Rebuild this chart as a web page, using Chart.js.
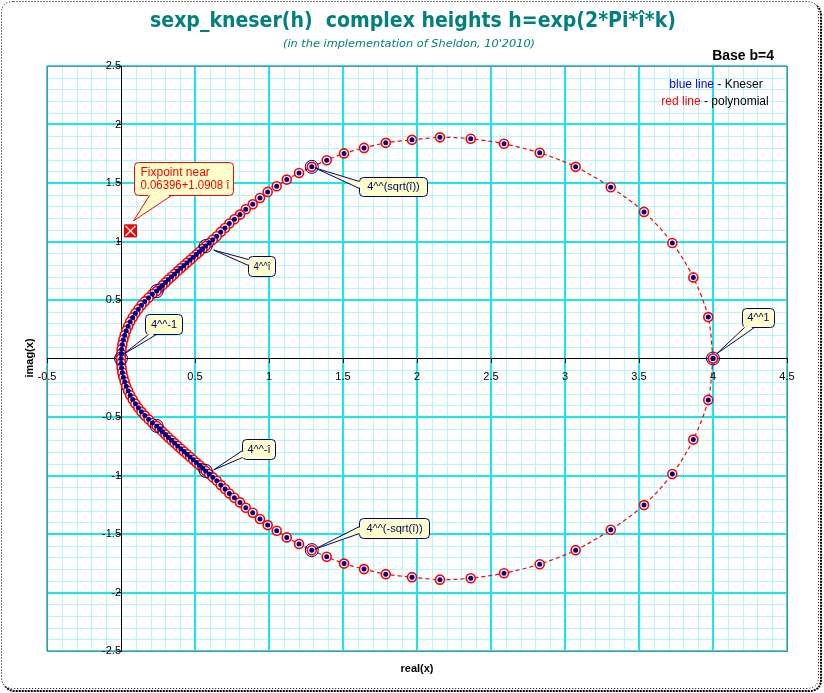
<!DOCTYPE html>
<html>
<head>
<meta charset="utf-8">
<title>sexp_kneser(h) complex heights</title>
<script src="https://cdn.jsdelivr.net/npm/chart.js"></script>
<style>
  html, body { margin: 0; padding: 0; background: #fff; }
  canvas { display: block; }
</style>
</head>
<body>
<canvas id="myChart" width="824" height="693"></canvas>
<script>
// values: h = exp(2*Pi*i*k), k = 0, 1/128, ... 1
// upper half (k = 0 .. 1/2) then lower half (k = 1/2 .. 1)
var kneserRe = [
  4.000, 3.968, 3.867, 3.725, 3.534, 3.309, 3.072, 2.829, 2.588, 2.363,
  2.155, 1.966, 1.789, 1.642, 1.507, 1.390, 1.289, 1.203, 1.120, 1.052,
  0.991, 0.939, 0.890, 0.843, 0.804, 0.766, 0.732, 0.703, 0.674, 0.647,
  0.620, 0.595, 0.572, 0.551, 0.530, 0.509, 0.488, 0.467, 0.446, 0.425,
  0.404, 0.383, 0.362, 0.341, 0.320, 0.300, 0.280, 0.260, 0.241, 0.212,
  0.186, 0.161, 0.138, 0.117, 0.097, 0.079, 0.062, 0.048, 0.035, 0.025,
  0.016, 0.009, 0.004, 0.001, 0.000,
  0.001, 0.004, 0.009, 0.016, 0.025, 0.035, 0.048, 0.062, 0.079, 0.097,
  0.117, 0.138, 0.161, 0.186, 0.212, 0.241, 0.260, 0.280, 0.300, 0.320,
  0.341, 0.362, 0.383, 0.404, 0.425, 0.446, 0.467, 0.488, 0.509, 0.530,
  0.551, 0.572, 0.595, 0.620, 0.647, 0.674, 0.703, 0.732, 0.766, 0.804,
  0.843, 0.890, 0.939, 0.991, 1.052, 1.120, 1.203, 1.289, 1.390, 1.507,
  1.642, 1.789, 1.966, 2.155, 2.363, 2.588, 2.829, 3.072, 3.309, 3.534,
  3.725, 3.867, 3.968, 4.000
];
var kneserIm = [
  0.000, 0.354, 0.693, 0.987, 1.253, 1.464, 1.638, 1.758, 1.835, 1.878,
  1.890, 1.869, 1.843, 1.800, 1.753, 1.695, 1.638, 1.586, 1.529, 1.472,
  1.424, 1.372, 1.318, 1.276, 1.230, 1.190, 1.154, 1.116, 1.082, 1.045,
  1.016, 0.987, 0.961, 0.937, 0.913, 0.889, 0.866, 0.842, 0.818, 0.795,
  0.771, 0.747, 0.723, 0.699, 0.675, 0.650, 0.625, 0.601, 0.576, 0.551,
  0.520, 0.488, 0.456, 0.422, 0.387, 0.351, 0.314, 0.276, 0.238, 0.199,
  0.160, 0.120, 0.080, 0.040, 0.000,
  -0.040, -0.080, -0.120, -0.160, -0.199, -0.238, -0.276, -0.314, -0.351, -0.387,
  -0.422, -0.456, -0.488, -0.520, -0.551, -0.576, -0.601, -0.625, -0.650, -0.675,
  -0.699, -0.723, -0.747, -0.771, -0.795, -0.818, -0.842, -0.866, -0.889, -0.913,
  -0.937, -0.961, -0.987, -1.016, -1.045, -1.082, -1.116, -1.154, -1.190, -1.230,
  -1.276, -1.318, -1.372, -1.424, -1.472, -1.529, -1.586, -1.638, -1.695, -1.753,
  -1.800, -1.843, -1.869, -1.890, -1.878, -1.835, -1.758, -1.638, -1.464, -1.253,
  -0.987, -0.693, -0.354, 0.000
];
// polynomial solution lies on top of Kneser's at this scale
var polyRe = kneserRe.slice();
var polyIm = kneserIm.slice();

// k = 0, 1/8, 2/8 ... 7/8 are circled
var circledIdx = [0, 16, 32, 48, 64, 80, 96, 112];

var fixRe = [0.06396];
var fixIm = [1.0908];

var xTickLabels = ['-0.5', '0', '0.5', '1', '1.5', '2', '2.5', '3', '3.5', '4', '4.5'];
var yTickLabels = ['-2.5', '-2', '-1.5', '-1', '-0.5', '0', '0.5', '1', '1.5', '2', '2.5'];

var TEAL = '#008080';
var NAVY = '#000080';
var MAJOR = '#19e6ee';
var MINOR = '#b8f7f9';

function pts(re, im) {
  return re.map(function (x, i) { return { x: x, y: im[i] }; });
}
function isMajor(v) { return Math.abs(v * 2 - Math.round(v * 2)) < 1e-6; }
function labelFor(list) {
  return function (v) {
    if (!isMajor(v)) return '';
    for (var i = 0; i < list.length; i++) {
      if (Math.abs(parseFloat(list[i]) - v) < 1e-6) return list[i];
    }
    return '';
  };
}
function tickColor(c) {
  return c.tick && isMajor(c.tick.value) ? '#000000' : 'rgba(0,0,0,0)';
}

// callouts: box offset from anchor point in px
var callouts = [
  { text: ['4^^(sqrt(\u00ee))'], idx: 16, dx: 47, dy: 10, w: 68, h: 19, side: 'left', b: [4, 11], tip: [3, 1] },
  { text: ['4^^\u00ee'], idx: 32, dx: 42, dy: 10, w: 27, h: 20, side: 'left', b: [3, 9], tip: [8, 4] },
  { text: ['4^^-1'], idx: 64, dx: 24, dy: -45, w: 37, h: 20, side: 'bottom', b: [3, 11], tip: [2, -4] },
  { text: ['4^^1'], idx: 0, dx: 29, dy: -51, w: 32, h: 19, side: 'bottom', b: [2, 12], tip: [4, -5] },
  { text: ['4^^-\u00ee'], idx: 96, dx: 36, dy: -32, w: 33, h: 20, side: 'left', b: [11, 18], tip: [8, -1] },
  { text: ['4^^(-sqrt(\u00ee))'], idx: 112, dx: 47, dy: -32, w: 70, h: 20, side: 'left', b: [8, 15], tip: [3, -1] }
];

function roundRect(ctx, x, y, w, h, r) {
  ctx.beginPath();
  ctx.moveTo(x + r, y);
  ctx.lineTo(x + w - r, y);
  ctx.quadraticCurveTo(x + w, y, x + w, y + r);
  ctx.lineTo(x + w, y + h - r);
  ctx.quadraticCurveTo(x + w, y + h, x + w - r, y + h);
  ctx.lineTo(x + r, y + h);
  ctx.quadraticCurveTo(x, y + h, x, y + h - r);
  ctx.lineTo(x, y + r);
  ctx.quadraticCurveTo(x, y, x + r, y);
  ctx.closePath();
}

function drawCallout(ctx, ax, ay, c, stroke, fill, color, font, align) {
  var bx = Math.round(ax + c.dx) + 0.5, by = Math.round(ay + c.dy) + 0.5;
  var p1, p2, q1, q2;
  if (c.side === 'left') {
    p1 = [bx, by + c.b[0]]; p2 = [bx, by + c.b[1]];
    q1 = [bx + 2, by + c.b[0]]; q2 = [bx + 2, by + c.b[1]];
  } else {
    p1 = [bx + c.b[0], by + c.h]; p2 = [bx + c.b[1], by + c.h];
    q1 = [bx + c.b[0], by + c.h - 2]; q2 = [bx + c.b[1], by + c.h - 2];
  }
  var tx = ax + c.tip[0], ty = ay + c.tip[1];
  ctx.save();
  ctx.lineWidth = 1;
  ctx.strokeStyle = stroke;
  ctx.fillStyle = fill;
  roundRect(ctx, bx, by, c.w, c.h, 4);
  ctx.fill();
  ctx.stroke();
  ctx.beginPath();
  ctx.moveTo(q1[0], q1[1]); ctx.lineTo(tx, ty); ctx.lineTo(q2[0], q2[1]); ctx.closePath();
  ctx.fill();
  ctx.beginPath();
  ctx.moveTo(p1[0], p1[1]); ctx.lineTo(tx, ty); ctx.lineTo(p2[0], p2[1]);
  ctx.stroke();
  ctx.fillStyle = color;
  ctx.font = font;
  ctx.textBaseline = 'middle';
  ctx.textAlign = 'left';
  var n = c.text.length;
  var maxW = c.w - 10;
  for (var i = 0; i < n; i++) {
    var yy = by + c.h / 2 + (i - (n - 1) / 2) * 13;
    var tw = ctx.measureText(c.text[i]).width;
    var sx = tw > maxW ? maxW / tw : 1;
    var xx = align === 'left' ? bx + 6 : bx + (c.w - tw * sx) / 2;
    ctx.save();
    ctx.translate(xx, yy);
    ctx.scale(sx, 1);
    ctx.fillText(c.text[i], 0, 0);
    ctx.restore();
  }
  ctx.restore();
}

function fitText(ctx, text, cx, cy, width, font, color) {
  ctx.save();
  ctx.font = font;
  ctx.fillStyle = color;
  ctx.textAlign = 'center';
  ctx.textBaseline = 'middle';
  var w = ctx.measureText(text).width;
  ctx.translate(cx, cy);
  ctx.scale(width / w, 1);
  ctx.fillText(text, 0, 0);
  ctx.restore();
}

// grid drawn from the scales' own ticks: 1px minor, 2px major
function drawGrid(chart) {
  var ctx = chart.ctx, a = chart.chartArea;
  var xs = chart.scales.x, ys = chart.scales.y;
  var L = Math.round(a.left), R = Math.round(a.right);
  var T = Math.round(a.top), B = Math.round(a.bottom);
  ctx.save();
  ctx.fillStyle = MINOR;
  xs.ticks.forEach(function (t) {
    if (isMajor(t.value)) return;
    ctx.fillRect(Math.round(xs.getPixelForValue(t.value)), T, 1, B - T);
  });
  ys.ticks.forEach(function (t) {
    if (isMajor(t.value)) return;
    ctx.fillRect(L, Math.round(ys.getPixelForValue(t.value)), R - L, 1);
  });
  ctx.fillStyle = MAJOR;
  xs.ticks.forEach(function (t) {
    if (!isMajor(t.value) || Math.abs(t.value) < 1e-6) return;
    ctx.fillRect(Math.round(xs.getPixelForValue(t.value)) - 1, T, 2, B - T);
  });
  ys.ticks.forEach(function (t) {
    if (!isMajor(t.value) || Math.abs(t.value) < 1e-6) return;
    ctx.fillRect(L, Math.round(ys.getPixelForValue(t.value)) - 1, R - L, 2);
  });
  ctx.strokeStyle = '#808080';
  ctx.lineWidth = 1;
  ctx.strokeRect(L + 0.5, T + 0.5, R - L, B - T);
  ctx.restore();
}

var framePlugin = {
  id: 'frame',
  beforeDraw: function (chart) {
    var ctx = chart.ctx;
    ctx.save();
    ctx.fillStyle = '#ffffff';
    ctx.fillRect(0, 0, chart.width, chart.height);
    // shadow
    ctx.strokeStyle = '#000000';
    ctx.lineWidth = 2;
    ctx.setLineDash([2, 1]);
    roundRect(ctx, 4, 4, 817, 687, 12);
    ctx.stroke();
    ctx.fillStyle = '#ffffff';
    roundRect(ctx, 1.5, 1.5, 817, 687, 12);
    ctx.fill();
    ctx.lineWidth = 1;
    ctx.setLineDash([1, 2]);
    ctx.stroke();
    ctx.restore();
    drawGrid(chart);
  },
  afterDraw: function (chart) {
    var ctx = chart.ctx;
    var xs = chart.scales.x, ys = chart.scales.y;
    fitText(ctx, 'sexp_kneser(h)  complex heights h=exp(2*Pi*\u00ee*k)', 413, 21, 526,
      'bold 22px "DejaVu Sans"', TEAL);
    fitText(ctx, '(in the implementation of Sheldon, 10\'2010)', 409, 44, 252,
      'italic 11px "DejaVu Sans"', TEAL);

    ctx.save();
    ctx.fillStyle = '#000000';
    ctx.font = 'bold 14px "Liberation Sans"';
    ctx.textAlign = 'right';
    ctx.textBaseline = 'middle';
    ctx.fillText('Base b=4', 774, 56);

    ctx.font = '12px "Liberation Sans"';
    ctx.textAlign = 'left';
    var a = 'blue line', b = ' - Kneser';
    var wa = ctx.measureText(a).width, wb = ctx.measureText(b).width;
    var x0 = 716 - (wa + wb) / 2;
    ctx.fillStyle = '#0000ff'; ctx.fillText(a, x0, 85);
    ctx.fillStyle = '#000000'; ctx.fillText(b, x0 + wa, 85);
    a = 'red line'; b = ' - polynomial';
    wa = ctx.measureText(a).width; wb = ctx.measureText(b).width;
    x0 = 715 - (wa + wb) / 2;
    ctx.fillStyle = '#ff0000'; ctx.fillText(a, x0, 102);
    ctx.fillStyle = '#000000'; ctx.fillText(b, x0 + wa, 102);

    ctx.font = 'bold 11px "Liberation Sans"';
    ctx.textAlign = 'center';
    ctx.fillText('real(x)', 417, 669);
    ctx.translate(30, 358);
    ctx.rotate(-Math.PI / 2);
    ctx.fillText('imag(x)', 0, 0);
    ctx.restore();

    callouts.forEach(function (c) {
      var ax = xs.getPixelForValue(kneserRe[c.idx]);
      var ay = ys.getPixelForValue(kneserIm[c.idx]);
      drawCallout(ctx, ax, ay, c, NAVY, '#ffffcc', '#000066', '11px "Liberation Sans"');
    });
    var fx = xs.getPixelForValue(fixRe[0]), fy = ys.getPixelForValue(fixIm[0]);
    drawCallout(ctx, fx, fy,
      { text: ['Fixpoint near', '0.06396+1.0908 \u00ee'], dx: 4, dy: -69, w: 99, h: 33,
        side: 'bottom', b: [15, 37], tip: [3, -10] },
      '#ff0000', '#ffffcc', '#ff0000', '12px "Liberation Sans"', 'left');
  }
};

var ctx = document.getElementById('myChart').getContext('2d');
Chart.defaults.font.family = '"Liberation Sans", Arial, sans-serif';
Chart.defaults.font.size = 11;
Chart.defaults.color = '#000000';

new Chart(ctx, {
  type: 'scatter',
  data: {
    datasets: [
      {
        label: 'circled',
        data: circledIdx.map(function (i) { return { x: kneserRe[i], y: kneserIm[i] }; }),
        pointRadius: 6.5,
        pointBorderColor: NAVY,
        pointBackgroundColor: 'rgba(0,0,0,0)',
        pointBorderWidth: 1,
        showLine: false,
        order: 0
      },
      {
        label: 'fixpoint cross',
        data: pts(fixRe, fixIm),
        pointStyle: 'crossRot',
        pointRadius: 7,
        pointBorderColor: '#ffffff',
        pointBorderWidth: 1.3,
        showLine: false,
        order: 1
      },
      {
        label: 'fixpoint',
        data: pts(fixRe, fixIm),
        pointStyle: 'rect',
        pointRadius: 8.5,
        pointBackgroundColor: '#ff0000',
        pointBorderColor: '#cc0000',
        pointBorderWidth: 1,
        showLine: false,
        order: 2
      },
      {
        label: 'Kneser',
        data: pts(kneserRe, kneserIm),
        pointRadius: 2.5,
        pointBackgroundColor: NAVY,
        pointBorderWidth: 0,
        showLine: false,
        order: 3
      },
      {
        label: 'polynomial',
        data: pts(polyRe, polyIm),
        showLine: true,
        borderColor: '#ff0000',
        borderWidth: 1.2,
        borderDash: [4, 3],
        tension: 0.3,
        pointRadius: 4.5,
        pointBorderColor: '#ff0000',
        pointBackgroundColor: '#ffffff',
        pointBorderWidth: 1.6,
        order: 4
      }
    ]
  },
  options: {
    responsive: false,
    animation: false,
    devicePixelRatio: 1,
    layout: { padding: { left: 47, top: 66, right: 37, bottom: 42 } },
    plugins: { legend: { display: false }, tooltip: { enabled: false } },
    scales: {
      x: {
        type: 'linear',
        min: -0.5,
        max: 4.5,
        position: { y: 0 },
        border: { color: '#000000', width: 1 },
        grid: { drawOnChartArea: false, tickLength: 4, tickColor: tickColor },
        ticks: { stepSize: 0.1, autoSkip: false, maxRotation: 0, padding: 8,
          callback: labelFor(xTickLabels) }
      },
      y: {
        type: 'linear',
        min: -2.5,
        max: 2.5,
        position: { x: 0 },
        border: { color: '#000000', width: 1 },
        grid: { drawOnChartArea: false, tickLength: 4, tickColor: tickColor },
        ticks: { stepSize: 0.1, autoSkip: false, padding: 5,
          callback: labelFor(yTickLabels) }
      }
    }
  },
  plugins: [framePlugin]
});
</script>
</body>
</html>
